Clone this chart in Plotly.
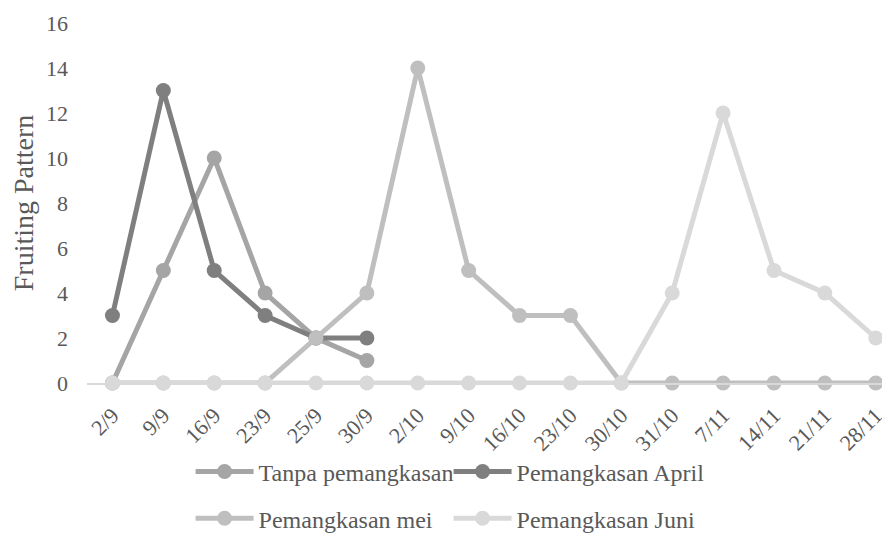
import plotly.graph_objects as go

categories = ["2/9", "9/9", "16/9", "23/9", "25/9", "30/9", "2/10", "9/10", "16/10",
              "23/10", "30/10", "31/10", "7/11", "14/11", "21/11", "28/11"]
tanpa = [0, 5, 10, 4, 2, 1, None, None, None, None, None, None, None, None, None, None]
april = [3, 13, 5, 3, 2, 2, None, None, None, None, None, None, None, None, None, None]
mei = [0, 0, 0, 0, 2, 4, 14, 5, 3, 3, 0, 0, 0, 0, 0, 0]
juni = [0, 0, 0, 0, 0, 0, 0, 0, 0, 0, 0, 4, 12, 5, 4, 2]
y_ticks = [0, 2, 4, 6, 8, 10, 12, 14, 16]

series = [
    ("Tanpa pemangkasan", tanpa, "#a5a5a5", "legend"),
    ("Pemangkasan April", april, "#7f7f7f", "legend"),
    ("Pemangkasan mei", mei, "#bfbfbf", "legend2"),
    ("Pemangkasan Juni", juni, "#d9d9d9", "legend2"),
]

FONT = "Liberation Serif, Times New Roman, serif"
TXT = "#595959"

fig = go.Figure()
for name, vals, col, lg in series:
    fig.add_trace(go.Scatter(
        x=categories, y=vals, name=name, mode="lines+markers",
        line=dict(color=col, width=5),
        marker=dict(color=col, size=15, line=dict(width=0)),
        cliponaxis=False, connectgaps=False, legend=lg,
    ))

leg_common = dict(orientation="h", x=0.129, xanchor="left", yanchor="middle",
                  entrywidth=185, entrywidthmode="pixels", itemwidth=58,
                  font=dict(family=FONT, size=24, color=TXT), bgcolor="rgba(0,0,0,0)")

fig.update_layout(
    width=882, height=539,
    margin=dict(l=79, r=0, t=15, b=164),
    paper_bgcolor="white", plot_bgcolor="white",
    font=dict(family=FONT, color=TXT, size=20),
    showlegend=True,
    legend=dict(y=-0.247, **leg_common),
    legend2=dict(y=-0.377, **leg_common),
)

fig.update_xaxes(
    type="category", categoryorder="array", categoryarray=categories,
    range=[-0.5, 15.28], tickangle=-45, showgrid=False, zeroline=False,
    showline=True, linecolor="#d9d9d9", linewidth=1.5, ticks="",
    ticklabelstandoff=9, automargin=False,
    tickfont=dict(family=FONT, size=22, color=TXT),
)
fig.update_yaxes(
    range=[0, 16], tickvals=y_ticks, showgrid=False, zeroline=False, showline=False,
    ticks="", ticklabelstandoff=18, automargin=False,
    tickfont=dict(family=FONT, size=22, color=TXT),
    title=dict(text="Fruiting Pattern", font=dict(family=FONT, size=28, color=TXT), standoff=16),
)

fig.write_html("out.html")
